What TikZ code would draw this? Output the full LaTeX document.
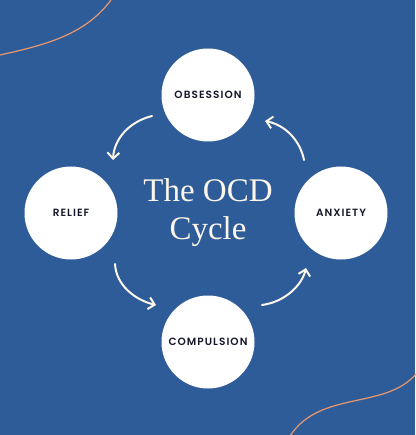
\documentclass[tikz,border=0pt]{standalone}
\usepackage{fontspec}
\setmainfont{Liberation Serif}
\newfontfamily\labelfont[LetterSpace=10]{Poppins SemiBold}
\usetikzlibrary{arrows.meta}
\definecolor{bgblue}{HTML}{2E5C99}
\definecolor{cream}{HTML}{FBF5EA}
\definecolor{peach}{HTML}{E9976C}
\definecolor{navy}{HTML}{16182A}
\tikzset{
  stage/.style={circle, fill=white, minimum size=93pt, inner sep=0pt,
    font=\labelfont\fontsize{10.5}{12}\selectfont, text=navy},
  cyclearrow/.style={draw=cream, line width=2pt, line cap=round,
    -{Straight Barb[length=6pt,width=12pt,line width=2pt]}},
  swoosh/.style={draw=peach, line width=1.2pt}
}
\begin{document}
\begin{tikzpicture}[x=1pt,y=-1pt]
\fill[bgblue] (0,0) rectangle (415,435);
\useasboundingbox (0,0) rectangle (415,435);
\draw[swoosh] (0,55) .. controls (45,45) and (85,35) .. (111,0);
\draw[swoosh] (290,436) .. controls (320,390) and (385,410) .. (416,374);
\node[stage] (obs) at (208,95) {OBSESSION};
\node[stage] (rel) at (71,213) {RELIEF};
\node[stage] (anx) at (341,213) {ANXIETY};
\node[stage] (com) at (208,342) {COMPULSION};
\node[text=cream, font=\fontsize{33}{38}\selectfont, align=center] (title) at (208,213) {The OCD\\Cycle};
\coordinate (a1) at (152,116);
\coordinate (a2) at (113,160);
\coordinate (b1) at (115,264);
\coordinate (b2) at (156,305);
\coordinate (c1) at (262,305);
\coordinate (c2) at (306,268);
\coordinate (d1) at (304,160);
\coordinate (d2) at (265,121);
\draw[cyclearrow] (a1) .. controls (128,122) and (114,140) .. (a2);
\draw[cyclearrow] (b1) .. controls (116,285) and (135,300) .. (b2);
\draw[cyclearrow] (c1) .. controls (285,302) and (302,285) .. (c2);
\draw[cyclearrow] (d1) .. controls (300,140) and (285,125) .. (d2);
\end{tikzpicture}
\end{document}
